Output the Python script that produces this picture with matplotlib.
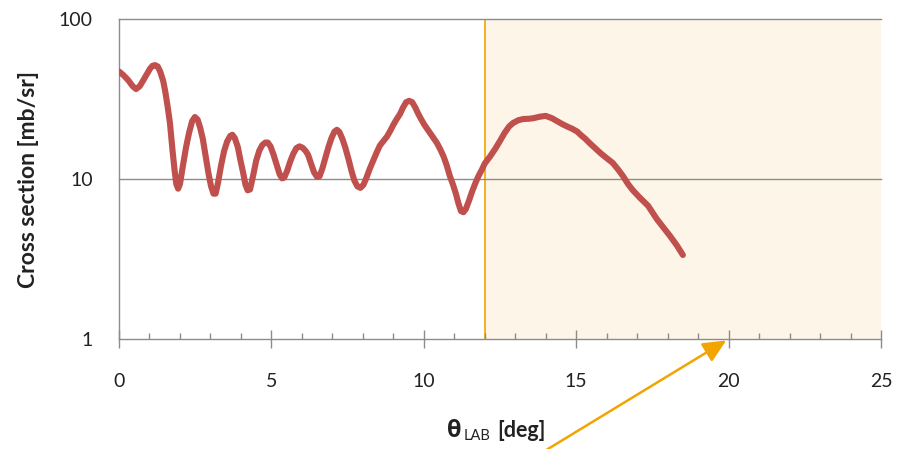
import matplotlib
matplotlib.use("Agg")
import matplotlib.pyplot as plt
from matplotlib.ticker import FixedLocator, NullFormatter

plt.rcParams['font.family'] = ['Lato', 'Open Sans', 'DejaVu Sans']

# Angular distribution (lab angle in degrees, cross section in mb/sr)
theta = [0.0, 0.15, 0.3, 0.45, 0.56, 0.68, 0.8, 0.92, 1.02, 1.1, 1.18, 1.27,
         1.35, 1.45, 1.52, 1.6, 1.67, 1.75, 1.82, 1.88, 1.94, 2.0, 2.1, 2.2,
         2.3, 2.4, 2.49, 2.58, 2.66, 2.75, 2.84, 2.93, 3.02, 3.1, 3.17, 3.25,
         3.35, 3.45, 3.55, 3.65, 3.72, 3.8, 3.9, 3.98, 4.07, 4.15, 4.22, 4.3,
         4.4, 4.5, 4.6, 4.7, 4.8, 4.88, 4.97, 5.07, 5.17, 5.27, 5.35, 5.42,
         5.52, 5.62, 5.72, 5.82, 5.92, 6.02, 6.12, 6.2, 6.3, 6.4, 6.5, 6.58,
         6.67, 6.77, 6.87, 6.97, 7.07, 7.15, 7.23, 7.33, 7.43, 7.53, 7.63, 7.72,
         7.82, 7.92, 8.02, 8.12, 8.22, 8.33, 8.45, 8.56, 8.68, 8.79, 8.9, 9.0,
         9.1, 9.22, 9.32, 9.42, 9.52, 9.62, 9.72, 9.82, 9.92, 10.02, 10.14,
         10.28, 10.43, 10.55, 10.65, 10.75, 10.85, 10.96, 11.06, 11.14, 11.22,
         11.3, 11.38, 11.48, 11.58, 11.68, 11.78, 11.9, 12.0, 12.17, 12.34,
         12.5, 12.65, 12.8, 12.93, 13.1, 13.26, 13.45, 13.6, 13.8, 14.0, 14.2,
         14.37, 14.55, 14.7, 14.87, 15.03, 15.17, 15.29, 15.45, 15.62, 15.8,
         16.0, 16.2, 16.37, 16.54, 16.7, 16.86, 17.1, 17.36, 17.5, 17.65,
         17.85, 18.08, 18.3, 18.5]
xsec = [47, 44.5, 41.5, 38, 36.5, 38, 41.5, 45.5, 49, 51, 51.5, 50.5,
        47, 41, 35, 28, 22.5, 15.5, 11.5, 9.3, 8.7, 9.3, 12.2, 15.8,
        19.5, 23, 24.4, 23.5, 21, 17.8, 14, 11, 9, 8.1, 8.1, 9.5,
        12.2, 15, 17.2, 18.6, 18.9, 18, 15.8, 13.2, 11, 9.2, 8.5, 8.6,
        10.5, 13, 15, 16.3, 16.9, 16.9, 16, 14.2, 12.3, 10.7, 10.1, 10.2,
        11.3, 12.9, 14.4, 15.6, 16, 15.7, 15, 14.2, 12.5, 11, 10.3, 10.4,
        11.6, 13.5, 15.8, 18, 19.8, 20.3, 19.7, 17.8, 15.6, 13.3, 11.2, 9.8,
        9.0, 8.8, 9.2, 10.2, 11.5, 12.9, 14.6, 16.2, 17.3, 18.4, 20, 21.8,
        23.5, 25.5, 28, 30.2, 30.8, 30.2, 28, 25.5, 23.5, 21.8, 20.2,
        18.5, 16.8, 15.2, 13.8, 12.2, 10.5, 9.2, 8.0, 7.0, 6.3,
        6.2, 6.5, 7.3, 8.3, 9.3, 10.3, 11.4, 12.5, 13.8, 15.4,
        17.3, 19.4, 21.3, 22.4, 23.3, 23.7, 23.8, 24.0, 24.5, 24.8, 24.0,
        23.0, 22.0, 21.3, 20.6, 19.8, 18.7, 17.9, 16.7, 15.6, 14.5,
        13.5, 12.6, 11.5, 10.4, 9.3, 8.5, 7.6, 6.8, 6.2, 5.6,
        5.0, 4.4, 3.85, 3.35]

x_major = [0, 5, 10, 15, 20, 25]
x_minor = list(range(0, 26))
y_ticks = [1, 10, 100]
y_labels = ['1', '10', '100']
shade_range = (12, 25)
arrow_target = (20, 1)

GRAY = '#8C8C8C'
ORANGE = '#F2A500'
CURVE = '#C0504D'
TEXT = '#222222'

fig = plt.figure(figsize=(8.98, 4.49), dpi=100)
ax = fig.add_axes([119 / 898, 110 / 449, 762 / 898, 320 / 449])

ax.set_xlim(0, 25)
ax.set_yscale('log')
ax.set_ylim(1, 100)

# shaded region and its boundary
ax.axvspan(*shade_range, facecolor='#FDF5E7', edgecolor='none', zorder=0)
ax.axvline(shade_range[0], color=ORANGE, lw=1.2, zorder=1)

# horizontal gridlines
for v in y_ticks[1:]:
    ax.axhline(v, color=GRAY, lw=1.0, zorder=1, clip_on=False)

ax.plot(theta, xsec, color=CURVE, lw=4.4, solid_joinstyle='round',
        solid_capstyle='round', zorder=3)

for s in ['top', 'right']:
    ax.spines[s].set_visible(False)
for s in ['left', 'bottom']:
    ax.spines[s].set_color(GRAY)
    ax.spines[s].set_linewidth(1.0)

ax.xaxis.set_major_locator(FixedLocator(x_major))
ax.xaxis.set_minor_locator(FixedLocator(x_minor))
ax.xaxis.set_minor_formatter(NullFormatter())
ax.tick_params(axis='x', which='major', direction='inout', length=12.5,
               width=1.0, color=GRAY, pad=18, labelsize=14, labelcolor=TEXT)
ax.tick_params(axis='x', which='minor', direction='in', length=4.5,
               width=1.0, color=GRAY)

ax.yaxis.set_major_locator(FixedLocator(y_ticks))
ax.set_yticklabels(y_labels)
ax.yaxis.set_minor_locator(FixedLocator([]))
ax.tick_params(axis='y', which='major', length=0, pad=19, labelsize=14,
               labelcolor=TEXT)

ax.set_ylabel('Cross section [mb/sr]', fontsize=16.5, fontweight='bold',
              color=TEXT, labelpad=14)

# x-axis label: bold theta with LAB subscript, then unit
fig.text(447 / 898, 1 - 437 / 449, 'θ', fontsize=17, fontweight='bold',
         family=['Open Sans', 'DejaVu Sans'], color=TEXT, ha='left', va='baseline')
fig.text(464 / 898, 1 - 440 / 449, 'LAB', fontsize=10.5, color=TEXT,
         ha='left', va='baseline')
fig.text(497 / 898, 1 - 437 / 449, '[deg]', fontsize=15.5, fontweight='bold',
         color=TEXT, ha='left', va='baseline')

ax.annotate('', xy=arrow_target, xycoords='data',
            xytext=(543 / 898, 1 - 452 / 449), textcoords='figure fraction',
            annotation_clip=False,
            arrowprops=dict(arrowstyle='-|>,head_length=1.4,head_width=0.65',
                            color=ORANGE, lw=1.8, shrinkA=0, shrinkB=2))

fig.savefig('out.png', dpi=100)
